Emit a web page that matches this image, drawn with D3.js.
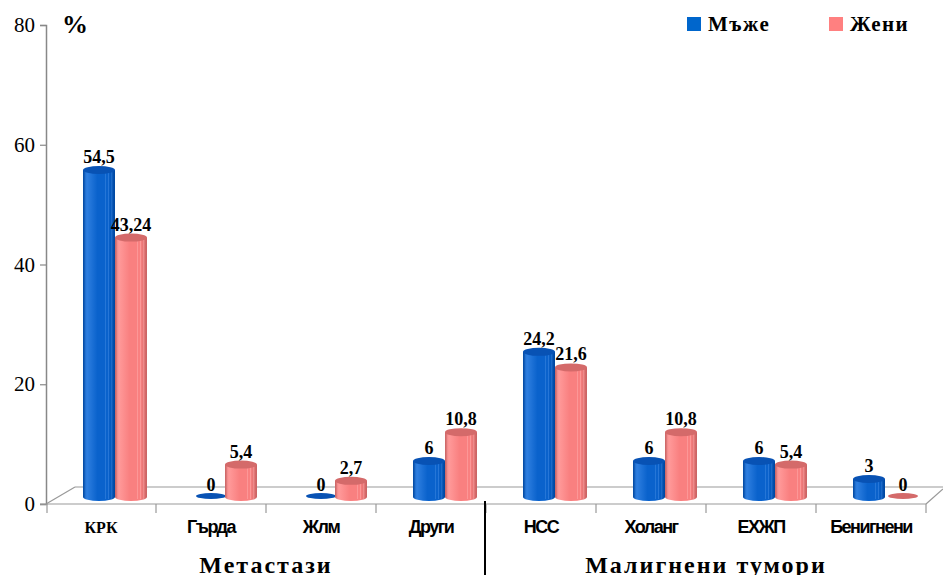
<!DOCTYPE html>
<html>
<head>
<meta charset="utf-8">
<script src="https://cdn.jsdelivr.net/npm/d3@7"></script>
<style>
 body { margin: 0; background: #fff; }
 svg { display: block; }
</style>
</head>
<body>
<svg width="943" height="575"></svg>
<script>
const categories = ["КРК", "Гърда", "Жлм", "Други", "НСС", "Холанг", "ЕХЖП", "Бенигнени"];
const men = [54.5, 0, 0, 6, 24.2, 6, 6, 3];
const women = [43.24, 5.4, 2.7, 10.8, 21.6, 10.8, 5.4, 0];
const seriesNames = ["Мъже", "Жени"];
const groups = [
	{ name: "Метастази", from: 0, to: 3 },
	{ name: "Малигнени тумори", from: 4, to: 7 }
];
const yTicks = [0, 20, 40, 60, 80];

const serif = "'Liberation Serif', 'Times New Roman', serif";
const sans = "'Liberation Sans', Arial, sans-serif";
const colors = {
	blue: { main: "#0a62cc", light: "#2f7fe0", dark: "#0047a0", top: "#0852b4", rib: "#3c88e0" },
	pink: { main: "#f98080", light: "#ff9a9a", dark: "#c86262", top: "#d46a6a", rib: "#ffaaaa" }
};

const svg = d3.select("svg");
const depth = { dx: 29, dy: 17 };
const frontY = 504;
const barBase = 497;

const x = d3.scaleBand().domain(categories).range([46, 926]).padding(0);
const y = d3.scaleLinear().domain([0, 80]).range([frontY, 25]);
const yBar = d3.scaleLinear().domain([0, 80]).range([barBase, barBase - 480]);

// gradients
const defs = svg.append("defs");
Object.entries(colors).forEach(([k, c]) => {
	const g = defs.append("linearGradient").attr("id", "grad-" + k).attr("x1", "0").attr("x2", "1");
	g.append("stop").attr("offset", "0").attr("stop-color", c.dark);
	g.append("stop").attr("offset", "0.12").attr("stop-color", c.light);
	g.append("stop").attr("offset", "0.45").attr("stop-color", c.main);
	g.append("stop").attr("offset", "0.8").attr("stop-color", c.main);
	g.append("stop").attr("offset", "1").attr("stop-color", c.dark);
});

// floor
const floor = svg.append("g").attr("stroke", "#999").attr("fill", "none").attr("stroke-width", 1.2);
floor.append("line").attr("x1", 46).attr("y1", frontY).attr("x2", 46 + depth.dx).attr("y2", frontY - depth.dy);
floor.append("line").attr("x1", 46 + depth.dx).attr("y1", frontY - depth.dy).attr("x2", 943).attr("y2", frontY - depth.dy);
floor.append("line").attr("x1", 926).attr("y1", frontY).attr("x2", 943).attr("y2", frontY - 15);

// y axis
const yAxis = svg.append("g").attr("transform", "translate(46,0)")
	.call(d3.axisLeft(y).tickValues(yTicks).tickSize(6).tickPadding(5));
yAxis.select(".domain").attr("stroke", "#888").attr("stroke-width", 1.5);
yAxis.selectAll(".tick line").attr("stroke", "#888").attr("stroke-width", 1.2);
yAxis.selectAll("text").attr("font-family", serif).attr("font-size", 21).attr("fill", "#000");

// x axis front line with ticks at band edges
svg.append("line").attr("x1", 40).attr("x2", 926).attr("y1", frontY).attr("y2", frontY).attr("stroke", "#999").attr("stroke-width", 1.2);
svg.append("g").selectAll("line").data(d3.range(categories.length + 1)).join("line")
	.attr("x1", i => 46 + i * x.bandwidth() + (i === 0 ? 1 : 0))
	.attr("x2", i => 46 + i * x.bandwidth() + (i === 0 ? 1 : 0))
	.attr("y1", frontY).attr("y2", frontY + 9)
	.attr("stroke", "#999").attr("stroke-width", 1.2);

// bars as cylinders
const barW = 32;
const ry = 4;
const rows = [];
categories.forEach((c, i) => {
	rows.push({ cat: c, v: men[i], key: "blue", x0: x(c) + 37 });
	rows.push({ cat: c, v: women[i], key: "pink", x0: x(c) + 37 + barW });
});

const bars = svg.append("g").selectAll("g").data(rows).join("g");
bars.each(function(d) {
	const g = d3.select(this);
	const c = colors[d.key];
	const top = yBar(d.v);
	const cx = d.x0 + barW / 2;
	if (d.v <= 0) {
		g.append("ellipse").attr("cx", cx + 2).attr("cy", barBase - 1).attr("rx", barW / 2 - 1).attr("ry", 3)
			.attr("fill", c.top);
		return;
	}
	g.append("path")
		.attr("d", `M${d.x0},${top} L${d.x0},${barBase} A${barW / 2},${ry} 0 0 0 ${d.x0 + barW},${barBase} L${d.x0 + barW},${top} Z`)
		.attr("fill", "url(#grad-" + d.key + ")");
	// ribs on the right side
	[0.7, 0.8, 0.9].forEach(f => {
		g.append("line").attr("x1", d.x0 + barW * f).attr("x2", d.x0 + barW * f)
			.attr("y1", top + 2).attr("y2", barBase + 2)
			.attr("stroke", c.rib).attr("stroke-width", 0.8).attr("opacity", 0.8);
	});
	g.append("line").attr("x1", d.x0 + 3).attr("x2", d.x0 + 3)
		.attr("y1", top + 2).attr("y2", barBase + 2)
		.attr("stroke", c.light).attr("stroke-width", 1).attr("opacity", 0.7);
	g.append("ellipse").attr("cx", cx).attr("cy", top).attr("rx", barW / 2).attr("ry", ry)
		.attr("fill", c.top);
});

// value labels
const fmt = v => String(v).replace(".", ",");
svg.append("g").selectAll("text").data(rows).join("text")
	.attr("x", d => d.x0 + barW / 2 + (d.v === 0 ? 2 : 0))
	.attr("y", d => yBar(d.v) - (d.v === 0 ? 6 : 7))
	.attr("text-anchor", "middle")
	.attr("font-family", serif).attr("font-weight", "bold").attr("font-size", 18)
	.text(d => fmt(d.v));

// category labels
svg.append("g").selectAll("text").data(categories).join("text")
	.attr("x", d => x(d) + x.bandwidth() / 2)
	.attr("y", 533)
	.attr("text-anchor", "middle")
	.attr("font-family", (d, i) => i === 0 ? serif : sans)
	.attr("font-weight", "bold")
	.attr("font-size", (d, i) => i === 0 ? 16 : 18)
	.attr("letter-spacing", (d, i) => i === 0 ? 0 : -1.5)
	.text(d => d);

// group labels and separator
svg.append("g").selectAll("text").data(groups).join("text")
	.attr("x", d => (x(categories[d.from]) + x(categories[d.to]) + x.bandwidth()) / 2)
	.attr("y", 573)
	.attr("text-anchor", "middle")
	.attr("font-family", serif).attr("font-weight", "bold").attr("font-size", 24)
	.attr("letter-spacing", 2)
	.text(d => d.name);
svg.append("line").attr("x1", 485).attr("x2", 485).attr("y1", 501).attr("y2", 575)
	.attr("stroke", "#000").attr("stroke-width", 2);

// percent sign
svg.append("text").attr("x", 62).attr("y", 33)
	.attr("font-family", serif).attr("font-weight", "bold").attr("font-size", 26).text("%");

// legend
const legend = svg.append("g").selectAll("g").data(seriesNames).join("g")
	.attr("transform", (d, i) => `translate(${687 + i * 142},17)`);
legend.append("rect").attr("width", 14).attr("height", 14)
	.attr("fill", (d, i) => i === 0 ? "#0066cc" : "#ff8080");
legend.append("text").attr("x", 21).attr("y", 14)
	.attr("font-family", serif).attr("font-weight", "bold").attr("font-size", 21)
	.attr("letter-spacing", 1.5)
	.text(d => d);
</script>
</body>
</html>
